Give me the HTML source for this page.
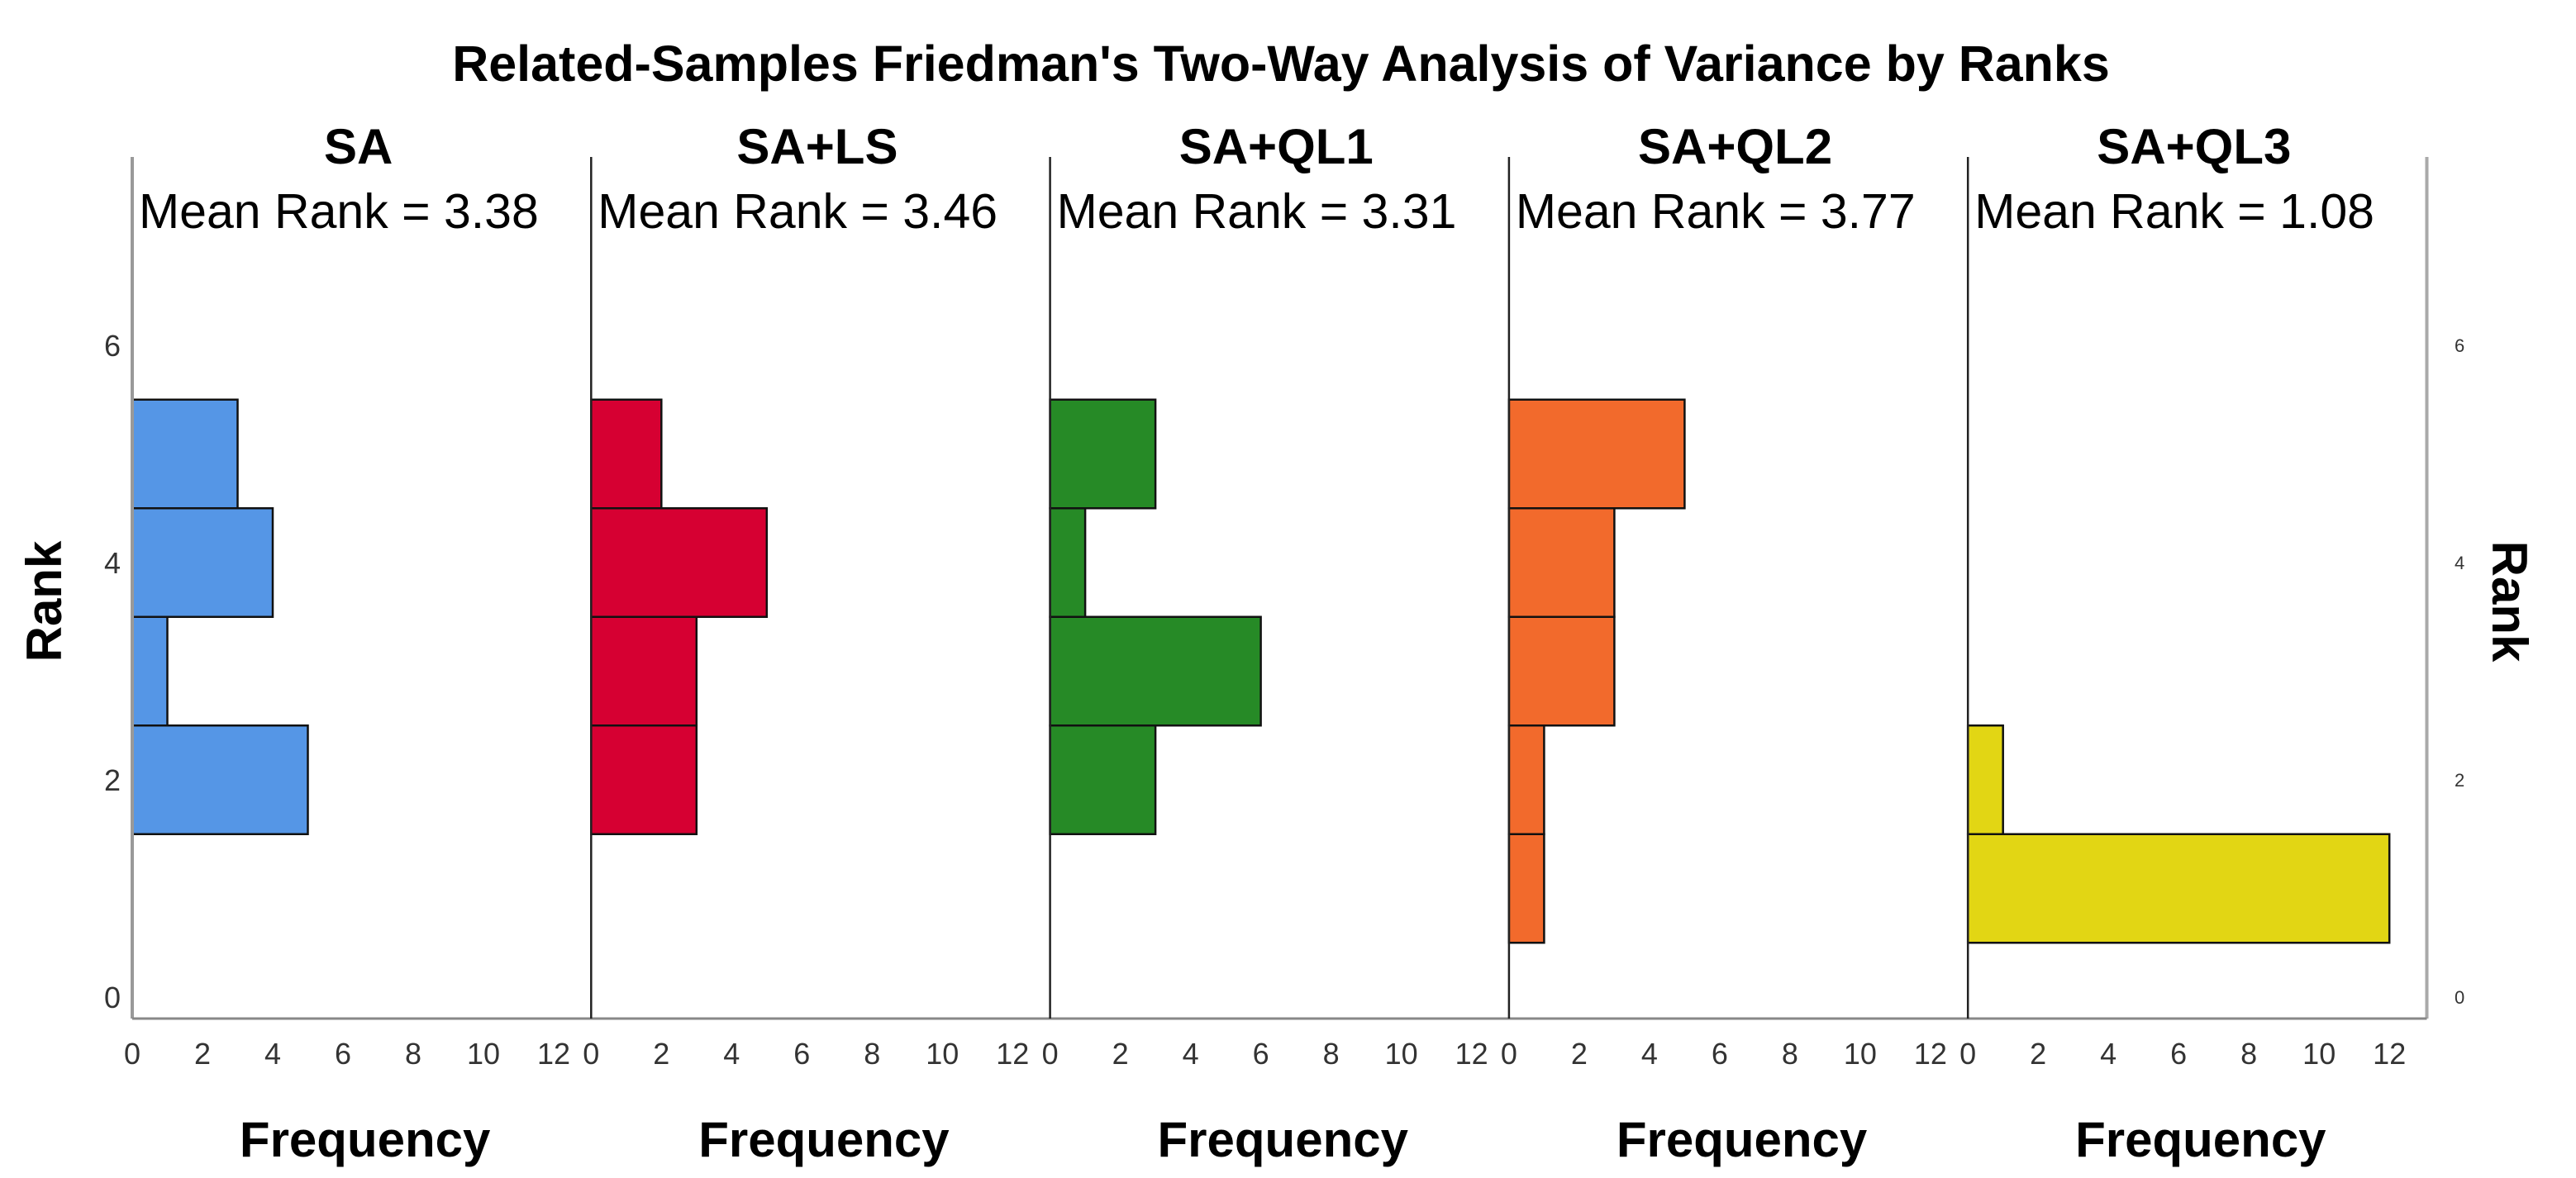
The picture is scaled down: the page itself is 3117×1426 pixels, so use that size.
<!DOCTYPE html>
<html><head><meta charset="utf-8"><style>
html,body{margin:0;padding:0;background:#fff;}
svg{display:block;font-family:"Liberation Sans",Arial,sans-serif;}
</style></head><body>
<svg id="chart" width="3117" height="1426" viewBox="0 0 3117 1426" xmlns="http://www.w3.org/2000/svg">
<rect width="3117" height="1426" fill="#fff"/>
<text x="1550" y="98" text-anchor="middle" font-size="61" font-weight="bold">Related-Samples Friedman's Two-Way Analysis of Variance by Ranks</text>
<g id="plot"></g>
</svg>
<script>
const groups = ["SA","SA+LS","SA+QL1","SA+QL2","SA+QL3"];
const meanRanks = ["3.38","3.46","3.31","3.77","1.08"];
const colors = ["#5596e6","#d60032","#268a26","#f26a2c","#e2d614"];
const ranks = [1,2,3,4,5];
const freqSA = [0,5,1,4,3];
const freqSALS = [0,3,3,5,2];
const freqSAQL1 = [0,3,6,1,3];
const freqSAQL2 = [1,1,3,3,5];
const freqSAQL3 = [12,1,0,0,0];
const freqTicks = [0,2,4,6,8,10,12];
const rankTicks = [0,2,4,6];

const series = [freqSA,freqSALS,freqSAQL1,freqSAQL2,freqSAQL3];
const NS="http://www.w3.org/2000/svg";
const g=document.getElementById('plot');
const left=160, panelW=555.3, unitX=510/12;
const y0=1207, unitY=131.5, axisTop=190, axisBottom=1233;
function xs(p,v){return left+p*panelW+v*unitX;}
function ys(r){return y0-r*unitY;}
function mk(tag,attrs,parent){const e=document.createElementNS(NS,tag);for(const k in attrs)e.setAttribute(k,attrs[k]);(parent||g).appendChild(e);return e;}

series.forEach((vals,p)=>{
  vals.forEach((v,i)=>{
    if(v<=0)return;
    const r=ranks[i];
    const b=mk('rect',{x:xs(p,0),y:ys(r+0.5),width:xs(p,v)-xs(p,0),height:unitY,fill:colors[p],stroke:'#111','stroke-width':2.5});
    
    
  });
});
let a=mk('line',{x1:left,y1:axisTop,x2:left,y2:axisBottom,stroke:'#999','stroke-width':4});

a=mk('line',{x1:left+5*panelW,y1:axisTop,x2:left+5*panelW,y2:axisBottom,stroke:'#aaa','stroke-width':4});

a=mk('line',{x1:left,y1:axisBottom,x2:left+5*panelW,y2:axisBottom,stroke:'#888','stroke-width':3});

for(let p=1;p<5;p++){
  a=mk('line',{x1:left+p*panelW,y1:axisTop,x2:left+p*panelW,y2:axisBottom,stroke:'#222','stroke-width':2.5});
  
}
groups.forEach((gname,p)=>{
  const cx=left+p*panelW+panelW*0.5;
  let t=mk('text',{x:cx-4,y:198,'text-anchor':'middle','font-size':60,'font-weight':'bold'});t.textContent=gname;
  
  t=mk('text',{x:left+p*panelW+8,y:276,'font-size':59});t.textContent='Mean Rank = '+meanRanks[p];
  
  freqTicks.forEach(v=>{
    const tt=mk('text',{x:xs(p,v),y:1288,'text-anchor':'middle','font-size':36,fill:'#333'});tt.textContent=v;
    
  });
  t=mk('text',{x:cx+4,y:1400,'text-anchor':'middle','font-size':60,'font-weight':'bold'});t.textContent='Frequency';
  
});
rankTicks.forEach(r=>{
  let t=mk('text',{x:146,y:ys(r)+13,'text-anchor':'end','font-size':36,fill:'#333'});t.textContent=r;
  
  t=mk('text',{x:2970,y:ys(r)+8,'font-size':22,fill:'#333'});t.textContent=r;
  
});
let t=mk('text',{x:0,y:0,'text-anchor':'middle','font-size':60,'font-weight':'bold',transform:'translate(74,728) rotate(-90)'});t.textContent='Rank';

t=mk('text',{x:0,y:0,'text-anchor':'middle','font-size':60,'font-weight':'bold',transform:'translate(3016,728) rotate(90)'});t.textContent='Rank';

</script>
</body></html>
